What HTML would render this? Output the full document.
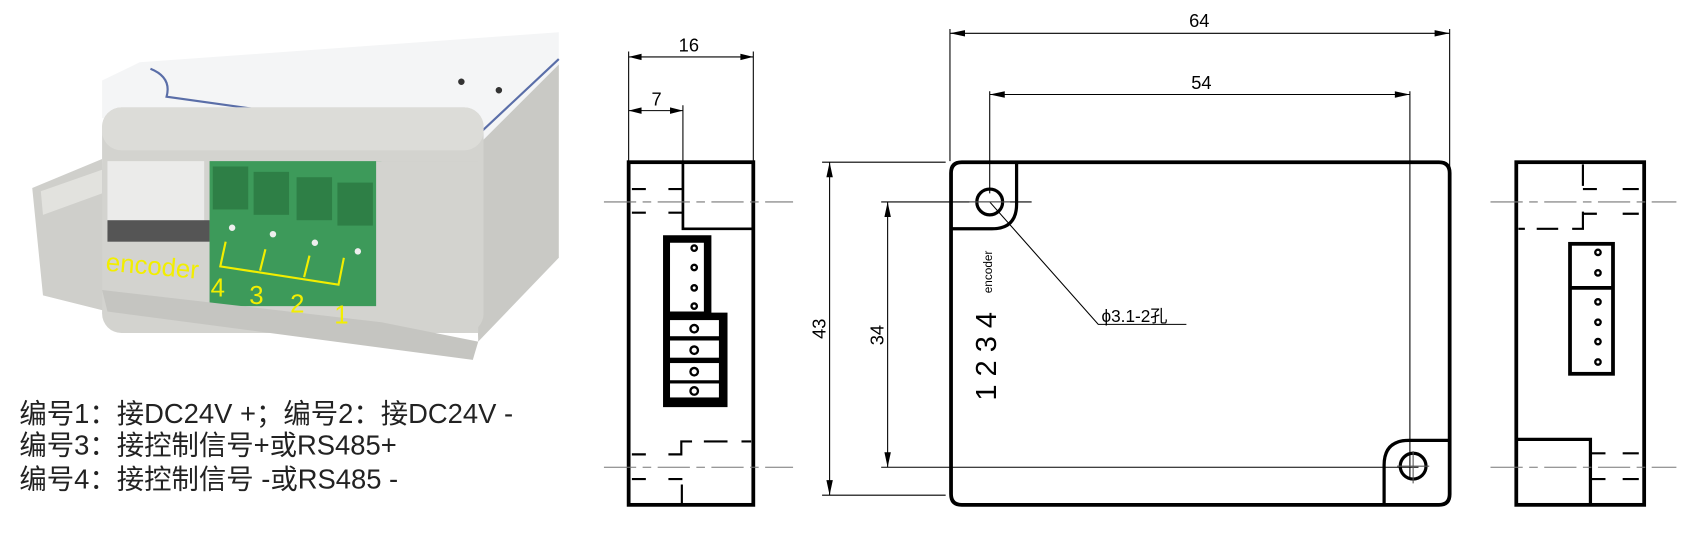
<!DOCTYPE html>
<html><head><meta charset="utf-8"><style>
html,body{margin:0;padding:0;background:#fff;}
svg{display:block;}
</style></head><body>
<svg width="1685" height="536" viewBox="0 0 1568 499" preserveAspectRatio="none" xmlns="http://www.w3.org/2000/svg" font-family="Liberation Sans, Noto Sans CJK SC, sans-serif">
<rect width="1568" height="499" fill="#fff"/>
<!-- PHOTO -->
<g>
  <polygon points="30,175 95,148 100,290 40,275" fill="#cfcfcb"/>
  <polygon points="38,178 95,158 95,180 40,200" fill="#e2e2de"/>
  <polygon points="95,75 130,58 520,30 520,95 440,140 95,110" fill="#f4f5f6"/>
  <path d="M140,64 Q160,72 155,90 L440,130 L520,55" fill="none" stroke="#5a6ea8" stroke-width="2"/>
  <polygon points="440,140 520,60 520,240 445,318" fill="#c9c9c5"/>
  <rect x="95" y="100" width="355" height="210" rx="18" fill="#d3d3cf"/>
  <rect x="95" y="100" width="355" height="40" rx="18" fill="#dcdcd8"/>
  <polygon points="100,150 190,150 190,220 100,215" fill="#ebebea"/>
  <rect x="100" y="205" width="95" height="20" fill="#555"/>
  <rect x="195" y="150" width="160" height="135" fill="#3d9a5a"/>
  <g fill="#2e7f46">
    <rect x="198" y="155" width="33" height="40"/><rect x="236" y="160" width="33" height="40"/>
    <rect x="276" y="165" width="33" height="40"/><rect x="314" y="170" width="33" height="40"/>
  </g>
  <g fill="#eee"><circle cx="216" cy="212" r="3"/><circle cx="254" cy="218" r="3"/><circle cx="293" cy="226" r="3"/><circle cx="333" cy="234" r="3"/></g>
  <rect x="350" y="150" width="95" height="160" fill="#d3d3cf"/>
  <polygon points="95,270 355,300 445,318 440,335 100,290" fill="#c5c5c1"/>
  <g fill="#333" font-size="14"><text x="460" y="88">●</text><text x="425" y="80">●</text></g>
  <g stroke="#f2ee00" stroke-width="2" fill="none">
    <path d="M210,225 L205,248 L315,265 L320,240"/>
    <path d="M247,232 L242,252"/><path d="M288,238 L283,258"/>
  </g>
  <g fill="#f2ee00" font-size="24">
    <text x="98" y="252" transform="rotate(5 98 252)">encoder</text>
    <text x="196" y="276">4</text><text x="232" y="283">3</text><text x="270" y="291">2</text><text x="311" y="301">1</text>
  </g>
</g>
<g font-size="25.5" fill="#222" font-family="Liberation Sans, Noto Sans CJK SC, sans-serif">
  <text x="18" y="394">编号1：接DC24V +；编号2：接DC24V -</text>
  <text x="18" y="423">编号3：接控制信号+或RS485+</text>
  <text x="18" y="455">编号4：接控制信号 -或RS485 -</text>
</g>

<!-- LEFT SIDE VIEW -->
<g stroke="#000" fill="none">
  <rect x="585" y="151" width="116" height="319" stroke-width="3.5"/>
  <path d="M635.5,151 V213 H701" stroke-width="2.5"/>
  <g stroke-width="1"><path d="M585,48 V150 M701,48 V150 M635.5,98 V150"/></g>
  <path d="M585,53 H701 M585,103 H635.5" stroke-width="1"/>
  <path d="M585,53 l12,-3 v6 z M701,53 l-12,-3 v6 z M585,103 l12,-3 v6 z M635.5,103 l-12,-3 v6 z" fill="#000" stroke="none"/>
  <path d="M562,188 H738 M562,435 H738" stroke="#777" stroke-width="1" stroke-dasharray="30,6,8,6"/>
  <path d="M588,176 h13 M622,176 h13 M588,198 h13 M622,198 h13" stroke-width="2"/>
  <path d="M588,423 h13 M622,423 h12 v-12 h10 M655,411 h22 M690,411 h9 M588,446 h13 M622,446 h13 M634.5,451 V470" stroke-width="2"/>
  <path d="M617,219 H662 V291 H677 V379 H617 Z" fill="#000" stroke="none"/>
  <rect x="623.5" y="226" width="31.5" height="64" fill="#fff" stroke="none"/>
  <g fill="#fff" stroke="none">
    <rect x="623.5" y="298" width="45.5" height="15"/><rect x="623.5" y="317" width="45.5" height="16"/>
    <rect x="623.5" y="338" width="45.5" height="16"/><rect x="623.5" y="357" width="45.5" height="13"/>
  </g>
  <g stroke-width="2.2" fill="#fff"><circle cx="646" cy="231" r="2.5"/><circle cx="646" cy="249" r="2.5"/><circle cx="646" cy="268" r="2.5"/><circle cx="646" cy="285" r="2.5"/>
  <circle cx="646" cy="306" r="3.5"/><circle cx="646" cy="326" r="3.5"/><circle cx="646" cy="346" r="3.5"/><circle cx="646" cy="364" r="3.5"/></g>
</g>
<g font-size="17" fill="#000"><text x="641" y="48" text-anchor="middle">16</text><text x="611" y="98" text-anchor="middle">7</text></g>

<!-- MAIN VIEW -->
<g stroke="#000" fill="none">
  <path d="M895,151 H1339 Q1349,151 1349,161 V460 Q1349,470 1339,470 H895 Q885,470 885,460 V161 Q885,151 895,151 Z" stroke-width="3.5"/>
  <path d="M946,151 V190 Q946,213 923,213 H885" stroke-width="3"/>
  <path d="M1288,470 V433 Q1288,410 1311,410 H1349" stroke-width="3"/>
  <circle cx="921" cy="188" r="12" stroke-width="3"/>
  <circle cx="1315" cy="434" r="12" stroke-width="3"/>
  <g stroke-width="1">
    <path d="M884,27 V150 M1349,27 V165 M921,85 V180 M1312,85 V445"/>
    <path d="M884,31 H1349 M921,88 H1312"/>
    <path d="M765,151 H880 M765,461 H880 M820,188 H960 M820,435 H1320"/>
    <path d="M772,151 V461 M826,188 V435"/>
    <path d="M921,188 L1022,302 H1104"/>
    <path d="M902,188 H940 M1300,434 H1330 M1315,420 V450" stroke="#555"/>
  </g>
  <g fill="#000" stroke="none">
    <path d="M884,31 l14,-3 v6 z M1349,31 l-14,-3 v6 z M921,88 l14,-3 v6 z M1312,88 l-14,-3 v6 z"/>
    <path d="M772,151 l-3,14 h6 z M772,461 l-3,-14 h6 z M826,188 l-3,14 h6 z M826,435 l-3,-14 h6 z"/>
  </g>
</g>
<g fill="#000">
  <text x="1116" y="25" font-size="17" text-anchor="middle">64</text>
  <text x="1118" y="83" font-size="17" text-anchor="middle">54</text>
  <text x="768" y="306" font-size="17" text-anchor="middle" transform="rotate(-90 768 306)">43</text>
  <text x="822" y="312" font-size="17" text-anchor="middle" transform="rotate(-90 822 312)">34</text>
  <text x="927" y="373" font-size="27" transform="rotate(-90 927 373)">1 2 3 4</text>
  <text x="923" y="273" font-size="11" transform="rotate(-90 923 273)">encoder</text>
  <text x="1025" y="300" font-size="16">ϕ3.1-2孔</text>
</g>

<!-- RIGHT VIEW -->
<g stroke="#000" fill="none">
  <rect x="1411" y="151" width="119" height="319" stroke-width="3.5"/>
  <path d="M1411,409 H1480 V470" stroke-width="3"/>
  <path d="M1387,188 H1560 M1387,435 H1560" stroke="#777" stroke-width="1" stroke-dasharray="30,6,8,6"/>
  <path d="M1473,153 V173 M1473,176 h13 M1510,176 h15 M1473,199 h13 M1510,199 h15 M1473,197 v16 h-10 M1450,213 h-20 M1419,213 h-6" stroke-width="2"/>
  <path d="M1480,422 h14 M1510,422 h15 M1480,446 h14 M1510,446 h15" stroke-width="2"/>
  <rect x="1461" y="227" width="40" height="121" stroke-width="3.5"/>
  <path d="M1461,268 H1501" stroke-width="3.5"/>
  <g stroke-width="2.2" fill="#fff"><circle cx="1487" cy="235" r="2.5"/><circle cx="1487" cy="254" r="2.5"/><circle cx="1487" cy="281" r="2.5"/><circle cx="1487" cy="300" r="2.5"/><circle cx="1487" cy="318" r="2.5"/><circle cx="1487" cy="337" r="2.5"/></g>
</g>
</svg>
</body></html>
